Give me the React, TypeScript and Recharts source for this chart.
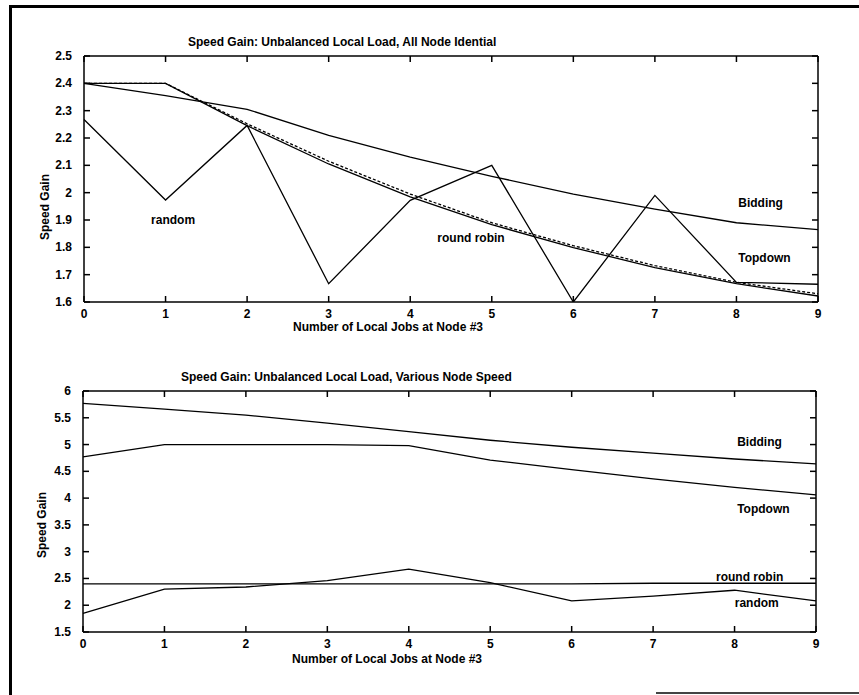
import React from 'react';
import { LineChart, Line, XAxis, YAxis, ReferenceDot } from 'recharts';

// x: number of local jobs at node #3
const jobs = [0, 1, 2, 3, 4, 5, 6, 7, 8, 9];

// upper panel: all nodes identical
const topBidding = [2.4, 2.355, 2.305, 2.21, 2.13, 2.06, 1.995, 1.94, 1.89, 1.865];
const topTopdown = [2.4, 2.4, 2.245, 2.105, 1.985, 1.883, 1.799, 1.726, 1.667, 1.622];
const topRoundRobin = [2.4, 2.4, 2.252, 2.115, 1.995, 1.89, 1.806, 1.733, 1.672, 1.63];
const topRandom = [2.268, 1.973, 2.246, 1.667, 1.972, 2.1, 1.6, 1.99, 1.672, 1.665];
const topYTicks = [1.6, 1.7, 1.8, 1.9, 2, 2.1, 2.2, 2.3, 2.4, 2.5];

// lower panel: various node speed
const botBidding = [5.77, 5.66, 5.55, 5.4, 5.24, 5.08, 4.95, 4.84, 4.73, 4.64];
const botTopdown = [4.77, 5.0, 5.0, 5.0, 4.98, 4.71, 4.53, 4.36, 4.2, 4.06];
const botRoundRobin = [2.4, 2.4, 2.4, 2.4, 2.4, 2.4, 2.4, 2.41, 2.41, 2.41];
const botRandom = [1.85, 2.3, 2.34, 2.46, 2.675, 2.42, 2.08, 2.17, 2.28, 2.08];
const botYTicks = [1.5, 2, 2.5, 3, 3.5, 4, 4.5, 5, 5.5, 6];

// in-plot text labels (data coordinates)
const topNotes = [
  { text: 'random', x: 0.81, y: 1.9 },
  { text: 'round robin', x: 4.32, y: 1.834 },
  { text: 'Bidding', x: 8.01, y: 1.962 },
  { text: 'Topdown', x: 8.01, y: 1.761 },
];
const botNotes = [
  { text: 'Bidding', x: 8.02, y: 5.05 },
  { text: 'Topdown', x: 8.02, y: 3.8 },
  { text: 'round robin', x: 7.76, y: 2.53 },
  { text: 'random', x: 7.99, y: 2.04 },
];

const topData = jobs.map((j, i) => ({
  job: j,
  bidding: topBidding[i],
  topdown: topTopdown[i],
  roundRobin: topRoundRobin[i],
  random: topRandom[i],
}));
const botData = jobs.map((j, i) => ({
  job: j,
  bidding: botBidding[i],
  topdown: botTopdown[i],
  roundRobin: botRoundRobin[i],
  random: botRandom[i],
}));

const FONT = '"Liberation Sans", Arial, Helvetica, sans-serif';
const TICK_LEN = 6;
const fmt = (v: number) => String(Math.round(v * 10) / 10);

// inward tick marks, drawn by hand (x/y are the axis coordinate of each tick)
const BottomTick = (p: any) => (
  <g>
    <line x1={p.x} y1={p.y} x2={p.x} y2={p.y - TICK_LEN} stroke="#000" strokeWidth={1.5} />
    <text x={p.x} y={p.y + 16} textAnchor="middle" fill="#000" fontSize={12} fontWeight={700} fontFamily={FONT}>
      {p.payload.value}
    </text>
  </g>
);
const TopTick = (p: any) => (
  <line x1={p.x} y1={p.y} x2={p.x} y2={p.y + TICK_LEN} stroke="#000" strokeWidth={1.5} />
);
const LeftTick = (p: any) => (
  <g>
    <line x1={p.x} y1={p.y} x2={p.x + TICK_LEN} y2={p.y} stroke="#000" strokeWidth={1.5} />
    <text x={p.x - 12} y={p.y + 4} textAnchor="end" fill="#000" fontSize={12} fontWeight={700} fontFamily={FONT}>
      {fmt(p.payload.value)}
    </text>
  </g>
);
const RightTick = (p: any) => (
  <line x1={p.x} y1={p.y} x2={p.x - TICK_LEN} y2={p.y} stroke="#000" strokeWidth={1.5} />
);

const axisLine = { stroke: '#000', strokeWidth: 1.5 };

function Panel({ data, yTicks, notes, dashed, top, height, margin }: any) {
  const dom = [yTicks[0], yTicks[yTicks.length - 1]];
  return (
    <div style={{ position: 'absolute', left: 0, top }}>
      <LineChart width={859} height={height} data={data} margin={margin}>
        <XAxis
          dataKey="job"
          type="number"
          domain={[0, 9]}
          ticks={jobs}
          interval={0}
          height={30}
          tickSize={0}
          tickMargin={0}
          tickLine={false}
          tick={<BottomTick />}
          axisLine={axisLine}
        />
        <XAxis
          xAxisId="t"
          orientation="top"
          dataKey="job"
          type="number"
          domain={[0, 9]}
          ticks={jobs}
          interval={0}
          height={1}
          tickSize={0}
          tickMargin={0}
          tickLine={false}
          tick={<TopTick />}
          axisLine={axisLine}
        />
        <YAxis
          type="number"
          domain={dom}
          ticks={yTicks}
          interval={0}
          allowDataOverflow
          width={40}
          tickSize={0}
          tickMargin={0}
          tickLine={false}
          tick={<LeftTick />}
          axisLine={axisLine}
        />
        <YAxis
          yAxisId="r"
          orientation="right"
          type="number"
          domain={dom}
          ticks={yTicks}
          interval={0}
          allowDataOverflow
          width={1}
          tickSize={0}
          tickMargin={0}
          tickLine={false}
          tick={<RightTick />}
          axisLine={axisLine}
        />
        <Line dataKey="bidding" stroke="#000" strokeWidth={1.3} dot={false} isAnimationActive={false} />
        <Line dataKey="topdown" stroke="#000" strokeWidth={1.3} dot={false} isAnimationActive={false} />
        <Line
          dataKey="roundRobin"
          stroke="#000"
          strokeWidth={1.3}
          strokeDasharray={dashed ? '3 2' : undefined}
          dot={false}
          isAnimationActive={false}
        />
        <Line dataKey="random" stroke="#000" strokeWidth={1.3} dot={false} isAnimationActive={false} />
        {notes.map((n: any) => (
          <ReferenceDot
            key={n.text}
            x={n.x}
            y={n.y}
            r={1}
            fill="none"
            stroke="none"
            label={{ value: n.text, position: 'right', offset: 0, fill: '#000', fontSize: 12, fontWeight: 700, fontFamily: FONT }}
          />
        ))}
      </LineChart>
    </div>
  );
}

const txt: React.CSSProperties = {
  position: 'absolute',
  fontFamily: FONT,
  fontWeight: 700,
  fontSize: 12,
  lineHeight: '14px',
  color: '#000',
  whiteSpace: 'nowrap',
};

export default function App() {
  return (
    <div style={{ position: 'absolute', left: 0, top: 0, width: 859, height: 695, background: '#fff', overflow: 'hidden' }}>
      {/* scanned page frame */}
      <div style={{ position: 'absolute', left: 9, top: 5, width: 3, height: 690, background: '#000' }} />
      <div style={{ position: 'absolute', left: 9, top: 5, width: 850, height: 3, background: '#000' }} />
      <div style={{ position: 'absolute', left: 656, top: 692, width: 203, height: 2, background: '#444' }} />

      <Panel
        data={topData}
        yTicks={topYTicks}
        notes={topNotes}
        dashed
        top={0}
        height={340}
        margin={{ top: 55, right: 40, bottom: 8, left: 44 }}
      />
      <Panel
        data={botData}
        yTicks={botYTicks}
        notes={botNotes}
        dashed={false}
        top={340}
        height={355}
        margin={{ top: 50, right: 42, bottom: 33, left: 43 }}
      />

      <div style={{ ...txt, left: 188, top: 35 }}>Speed Gain: Unbalanced Local Load, All Node Idential</div>
      <div style={{ ...txt, left: 293, top: 320 }}>Number of Local Jobs at Node #3</div>
      <div style={{ ...txt, left: 45, top: 207, transform: 'translate(-50%, -50%) rotate(-90deg)' }}>Speed Gain</div>

      <div style={{ ...txt, left: 181, top: 370 }}>Speed Gain: Unbalanced Local Load, Various Node Speed</div>
      <div style={{ ...txt, left: 292, top: 652 }}>Number of Local Jobs at Node #3</div>
      <div style={{ ...txt, left: 42, top: 525, transform: 'translate(-50%, -50%) rotate(-90deg)' }}>Speed Gain</div>
    </div>
  );
}
